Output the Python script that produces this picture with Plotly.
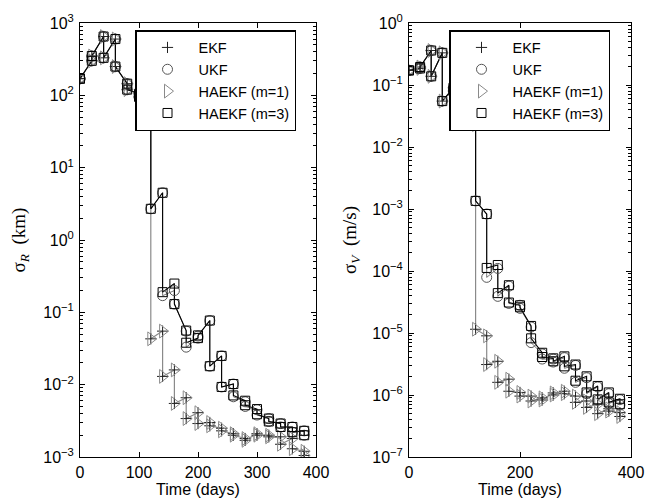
import plotly.graph_objects as go

# ---------------- data ----------------
days = [0, 20, 40, 60, 80, 100, 120, 140, 160, 180, 200, 220, 240, 260, 280, 300, 320, 340, 360, 380]

# sigma_R (km): value before (pre) and after (post) each update
R_m3_pre = [170, 300, 650, 600, 145, 105, 80, 4.5, 0.25, 0.056, 0.044, 0.077, 0.025, 0.0102, 0.006, 0.0046, 0.0034, 0.0029, 0.0026, 0.0023]
R_m3_post = [170, 350, 330, 250, 120, 95, 2.7, 0.19, 0.13, 0.038, 0.048, 0.018, 0.0093, 0.0071, 0.0052, 0.0039, 0.0031, 0.0026, 0.0022, 0.002]
R_ukf_pre = [170, 300, 650, 600, 145, 105, 80, 4.5, 0.2, 0.055, 0.044, 0.077, 0.025, 0.0102, 0.0058, 0.0045, 0.0034, 0.0029, 0.0026, 0.0023]
R_ukf_post = [170, 350, 330, 250, 120, 95, 2.7, 0.17, 0.13, 0.033, 0.047, 0.018, 0.0093, 0.0068, 0.005, 0.0038, 0.0031, 0.0026, 0.0022, 0.002]
R_m1_pre = [170, 300, 650, 600, 145, 105, 80, 0.055, 0.016, 0.0066, 0.0041, 0.003, 0.0025, 0.0021, 0.0018, 0.0021, 0.002, 0.0019, 0.0018, 0.0012]
R_m1_post = [170, 350, 330, 250, 120, 95, 0.043, 0.013, 0.0055, 0.0034, 0.0029, 0.0027, 0.0023, 0.002, 0.0017, 0.002, 0.0019, 0.0015, 0.0013, 0.00105]
R_ekf_pre = R_m1_pre
R_ekf_post = R_m1_post

# sigma_V (m/s)
V_m3_pre = [0.172, 0.185, 0.36, 0.33, 0.09, 0.07, 0.023, 0.00083, 1.25e-4, 5.9e-5, 2.8e-5, 1.3e-5, 4.8e-6, 3.9e-6, 4.2e-6, 3.1e-6, 2.0e-6, 1.4e-6, 1.1e-6, 8.7e-7]
V_m3_post = [0.172, 0.195, 0.138, 0.055, 0.08, 0.06, 0.00135, 1.12e-4, 4.4e-5, 3.1e-5, 2.6e-5, 8.2e-6, 4.1e-6, 3.5e-6, 2.9e-6, 1.7e-6, 1.1e-6, 8.5e-7, 7.6e-7, 7.1e-7]
V_ukf_pre = [0.172, 0.185, 0.36, 0.33, 0.09, 0.07, 0.023, 0.00083, 1.1e-4, 5.7e-5, 2.8e-5, 1.25e-5, 4.6e-6, 3.8e-6, 4.0e-6, 3.0e-6, 1.9e-6, 1.35e-6, 1.05e-6, 8.4e-7]
V_ukf_post = [0.172, 0.195, 0.138, 0.055, 0.08, 0.06, 0.00135, 7.9e-5, 3.9e-5, 3.0e-5, 2.5e-5, 7.0e-6, 3.8e-6, 3.4e-6, 2.7e-6, 1.6e-6, 1.05e-6, 8.2e-7, 7.3e-7, 6.9e-7]
V_m1_pre = [0.172, 0.185, 0.36, 0.33, 0.09, 0.07, 0.023, 9e-6, 3.5e-6, 1.8e-6, 1.1e-6, 9.6e-7, 9e-7, 1.08e-6, 1.15e-6, 9.6e-7, 8e-7, 7.1e-7, 6e-7, 5.2e-7]
V_m1_post = [0.172, 0.195, 0.138, 0.055, 0.08, 0.06, 1.15e-5, 3.1e-6, 1.6e-6, 1.15e-6, 9.6e-7, 8e-7, 8.3e-7, 1e-6, 1.05e-6, 7.6e-7, 6.3e-7, 5e-7, 5.5e-7, 4.5e-7]
V_ekf_pre = V_m1_pre
V_ekf_post = V_m1_post

series_names = ["EKF", "UKF", "HAEKF (m=1)", "HAEKF (m=3)"]
x_ticks_left = [0, 100, 200, 300, 400]
x_ticks_right = [0, 200, 400]
y_exps_left = [-3, -2, -1, 0, 1, 2, 3]
y_exps_right = [-7, -6, -5, -4, -3, -2, -1, 0]


def saw(t, pre, post):
    xs, ys = [], []
    for ti, a, b in zip(t, pre, post):
        xs += [ti, ti]
        ys += [a, b]
    return xs, ys


def pow_labels(exps):
    return [10.0 ** e for e in exps], ["10<sup>%s</sup>" % (str(e).replace("-", "\u2212")) for e in exps]


W, H = 646, 500
FONT = "Liberation Sans, Arial, Helvetica, sans-serif"
GRAY = "#8a8a8a"
DGRAY = "#555555"

styles = {
    "EKF": dict(symbol="cross-thin-open", size=8, color="#222222"),
    "UKF": dict(symbol="circle-open", size=10, color=DGRAY),
    "HAEKF (m=1)": dict(symbol="triangle-right-open", size=12, color=GRAY),
    "HAEKF (m=3)": dict(symbol="square-open", size=9, color="black"),
}

fig = go.Figure()

panels = [
    ("x", "y", "legend", {
        "EKF": (R_ekf_pre, R_ekf_post), "UKF": (R_ukf_pre, R_ukf_post),
        "HAEKF (m=1)": (R_m1_pre, R_m1_post), "HAEKF (m=3)": (R_m3_pre, R_m3_post)}),
    ("x2", "y2", "legend2", {
        "EKF": (V_ekf_pre, V_ekf_post), "UKF": (V_ukf_pre, V_ukf_post),
        "HAEKF (m=1)": (V_m1_pre, V_m1_post), "HAEKF (m=3)": (V_m3_pre, V_m3_post)}),
]

for xa, ya, lg, data in panels:
    for name, col, w in [("HAEKF (m=1)", GRAY, 1.2), ("UKF", DGRAY, 0.8), ("HAEKF (m=3)", "black", 1.1)]:
        xs, ys = saw(days, *data[name])
        fig.add_trace(go.Scatter(x=xs, y=ys, mode="lines", line=dict(color=col, width=w),
                                 xaxis=xa, yaxis=ya, showlegend=False, hoverinfo="skip"))
    for name in ["EKF", "HAEKF (m=1)", "UKF", "HAEKF (m=3)"]:
        xs, ys = saw(days, *data[name])
        st = styles[name]
        fig.add_trace(go.Scatter(
            x=xs, y=ys, mode="markers", name=name, xaxis=xa, yaxis=ya, legend=lg,
            legendrank=series_names.index(name) + 1,
            marker=dict(symbol=st["symbol"], size=st["size"], color=st["color"],
                        line=dict(color=st["color"], width=1)),
        ))

ax_common = dict(showline=True, linecolor="black", linewidth=1, mirror="ticks",
                 ticks="inside", ticklen=5, tickcolor="black", showgrid=False, zeroline=False,
                 automargin=False,
                 tickfont=dict(family=FONT, size=16, color="black"))

yx0 = 1 - 457 / H
yx1 = 1 - 23 / H
tvL, ttL = pow_labels(y_exps_left)
tvR, ttR = pow_labels(y_exps_right)
minor = dict(ticks="inside", ticklen=3, tickcolor="black", dtick="D1", showgrid=False)
ytitle_font = dict(family="Liberation Serif, Times New Roman, serif", size=19)
leg_common = dict(xanchor="left", yanchor="top", bordercolor="black", borderwidth=1.5,
                  bgcolor="white", font=dict(family=FONT, size=14.5, color="black"),
                  tracegroupgap=0, itemwidth=52)

fig.update_layout(
    width=W, height=H, margin=dict(l=0, r=0, t=0, b=0, autoexpand=False),
    paper_bgcolor="white", plot_bgcolor="white",
    font=dict(family=FONT, size=16, color="black"),
    xaxis=dict(domain=[80 / W, 316 / W], range=[0, 400], tickvals=x_ticks_left, anchor="y",
               ticklabelstandoff=1,
               title=dict(text="Time (days)", font=dict(family=FONT, size=16), standoff=2),
               **ax_common),
    yaxis=dict(domain=[yx0, yx1], type="log", range=[-3, 3], tickvals=tvL, ticktext=ttL,
               anchor="x", minor=minor, ticklabelstandoff=2,
               title=dict(text="σ<sub><i>R</i></sub>  (km)", font=ytitle_font, standoff=12),
               **ax_common),
    xaxis2=dict(domain=[409 / W, 631 / W], range=[0, 400], tickvals=x_ticks_right, anchor="y2",
                ticklabelstandoff=1,
                title=dict(text="Time (days)", font=dict(family=FONT, size=16), standoff=2),
                **ax_common),
    yaxis2=dict(domain=[yx0, yx1], type="log", range=[-7, 0], tickvals=tvR, ticktext=ttR,
                anchor="x2", minor=minor, ticklabelstandoff=2,
                title=dict(text="σ<sub><i>V</i></sub>  (m/s)", font=ytitle_font, standoff=10),
                **ax_common),
    legend=dict(x=135 / W, y=1 - 30 / H, **leg_common),
    legend2=dict(x=449 / W, y=1 - 30 / H, **leg_common),
)

fig.write_html("out.html")
